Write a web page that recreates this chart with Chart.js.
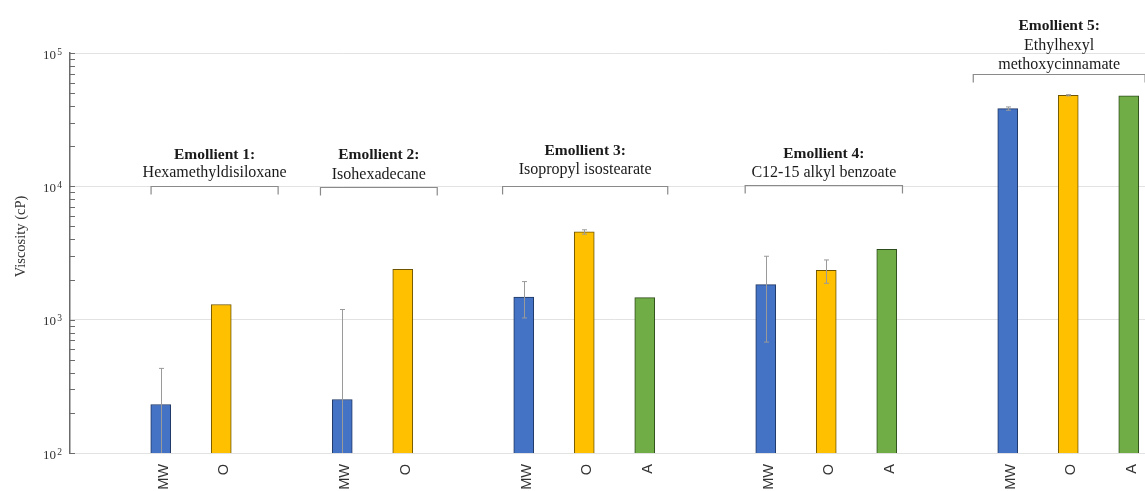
<!DOCTYPE html>
<html>
<head>
<meta charset="utf-8">
<script src="https://cdn.jsdelivr.net/npm/chart.js@4.4.1/dist/chart.umd.min.js"></script>
<style>
  html, body { margin: 0; padding: 0; background: #fff; overflow: hidden; width: 1145px; height: 491px; }
  canvas { display: block; }
</style>
</head>
<body>
<canvas id="chart" width="1160" height="491"></canvas>
<script>
// Preparation methods shown under each emollient
const methods = ['MW', 'O', 'A'];

// Emollient headings (bold line + substance name lines)
const emollientTitles = ['Emollient 1:', 'Emollient 2:', 'Emollient 3:', 'Emollient 4:', 'Emollient 5:'];
const emollientNames = [
  ['Hexamethyldisiloxane'],
  ['Isohexadecane'],
  ['Isopropyl isostearate'],
  ['C12-15 alkyl benzoate'],
  ['Ethylhexyl', 'methoxycinnamate']
];

// Viscosity (cP) per emollient, with standard deviations
const mwViscosity = [231, 252, 1480, 1834, 38300];
const mwError     = [200, 940, 450, 1155, 1100];
const oViscosity  = [1300, 2390, 4550, 2340, 48200];
const oError      = [null, null, 170, 465, 500];
const aViscosity  = [null, null, 1465, 3370, 47700];
const aError      = [null, null, null, null, null];

// Value-axis decades carrying a label (10^2 … 10^5)
const decadeExponents = [2, 3, 4, 5];

const series = [
  { values: mwViscosity, errors: mwError, fill: '#4472C4', edge: '#1F3763' },
  { values: oViscosity,  errors: oError,  fill: '#FFC000', edge: '#6E5400' },
  { values: aViscosity,  errors: aError,  fill: '#70AD47', edge: '#2E4D1C' }
];

// Build the category slots: a leading gap, each emollient's bars, a gap between emollients
const labels = [''];
const slotValues = series.map(() => [null]);
const slotErrors = series.map(() => [null]);
const groupStart = [];
emollientTitles.forEach((title, g) => {
  groupStart.push(labels.length);
  series.forEach((s, k) => {
    if (s.values[g] == null) return;
    labels.push(methods[k]);
    series.forEach((_, j) => {
      slotValues[j].push(j === k ? s.values[g] : null);
      slotErrors[j].push(j === k ? s.errors[g] : null);
    });
  });
  if (g < emollientTitles.length - 1) {
    labels.push('');
    slotValues.forEach(a => a.push(null));
    slotErrors.forEach(a => a.push(null));
  }
});

// Bracket layout, in category units relative to each emollient's first bar
const bracketSpan = [[-0.16, 1.94], [-0.36, 1.57], [-0.35, 2.38], [-0.34, 2.26], [-0.57, 2.27]];
const bracketY = [185.7, 186.5, 185.7, 185.2, 74];
const headingBaselines = [[159.3, 176.7], [159.3, 178.5], [155, 174.3], [157.7, 176.7], [30, 50, 69.3]];

const SERIF = "'Liberation Serif', 'DejaVu Serif', serif";
const isDecade = v => v > 0 && Math.abs(Math.log10(v) - Math.round(Math.log10(v))) < 1e-9;

const errorBars = {
  id: 'errorBars',
  afterDatasetsDraw(chart) {
    const { ctx, chartArea, scales: { y } } = chart;
    ctx.save();
    ctx.beginPath();
    ctx.rect(chartArea.left, chartArea.top, chartArea.right - chartArea.left, chartArea.bottom - chartArea.top);
    ctx.clip();
    ctx.strokeStyle = '#9a9a9a';
    ctx.lineWidth = 1;
    chart.data.datasets.forEach((ds, k) => {
      const meta = chart.getDatasetMeta(k);
      ds.data.forEach((v, i) => {
        const e = slotErrors[k][i];
        if (v == null || !e) return;
        const x = Math.round(meta.data[i].x) + 0.5;
        const top = y.getPixelForValue(v + e);
        const low = v - e > 0 ? y.getPixelForValue(v - e) : chartArea.bottom + 20;
        ctx.beginPath();
        ctx.moveTo(x, top); ctx.lineTo(x, low);
        ctx.moveTo(x - 2.5, top); ctx.lineTo(x + 2.5, top);
        ctx.moveTo(x - 2.5, low); ctx.lineTo(x + 2.5, low);
        ctx.stroke();
      });
    });
    ctx.restore();
  }
};

const decorations = {
  id: 'decorations',
  afterDraw(chart) {
    const { ctx, chartArea, scales: { x, y } } = chart;
    ctx.save();
    // minor and major tick marks on the inside of the value axis
    ctx.strokeStyle = '#6b6b6b';
    ctx.lineWidth = 1;
    ctx.beginPath();
    for (let dec = 100; dec < 100000; dec *= 10) {
      for (let m = 1; m <= 10; m++) {
        const py = Math.round(y.getPixelForValue(dec * m)) + 0.5;
        ctx.moveTo(chartArea.left, py);
        ctx.lineTo(chartArea.left + 5, py);
      }
    }
    ctx.stroke();

    // decade labels written as 10 with a raised exponent
    ctx.fillStyle = '#333';
    decadeExponents.forEach(p => {
      const py = y.getPixelForValue(Math.pow(10, p));
      ctx.font = `9.5px ${SERIF}`;
      ctx.textAlign = 'right';
      ctx.textBaseline = 'alphabetic';
      ctx.fillText(String(p), 62, py + 1.8);
      ctx.font = `13px ${SERIF}`;
      ctx.fillText('10', 56, py + 5.8);
    });

    // axis title
    ctx.fillStyle = '#333';
    ctx.font = `14.5px ${SERIF}`;
    ctx.textAlign = 'center';
    ctx.textBaseline = 'middle';
    ctx.translate(21, 236.5);
    ctx.rotate(-Math.PI / 2);
    ctx.fillText('Viscosity (cP)', 0, 0);
    ctx.setTransform(1, 0, 0, 1, 0, 0);

    // emollient brackets and headings
    const step = x.getPixelForValue(1) - x.getPixelForValue(0);
    emollientTitles.forEach((title, g) => {
      const base = x.getPixelForValue(groupStart[g]);
      const x0 = base + bracketSpan[g][0] * step;
      const x1 = base + bracketSpan[g][1] * step;
      const by = Math.round(bracketY[g]) + 0.5;
      ctx.strokeStyle = '#8a8a8a';
      ctx.lineWidth = 1.2;
      ctx.beginPath();
      ctx.moveTo(x0, by + 8); ctx.lineTo(x0, by); ctx.lineTo(x1, by); ctx.lineTo(x1, by + 8);
      ctx.stroke();

      const cx = (x0 + x1) / 2;
      const lines = headingBaselines[g];
      ctx.fillStyle = '#1a1a1a';
      ctx.textAlign = 'center';
      ctx.textBaseline = 'alphabetic';
      ctx.font = `bold 15.5px ${SERIF}`;
      ctx.fillText(title, cx, lines[0]);
      ctx.font = `16px ${SERIF}`;
      emollientNames[g].forEach((name, n) => ctx.fillText(name, cx, lines[n + 1]));
    });
    ctx.restore();
  }
};

new Chart(document.getElementById('chart'), {
  type: 'bar',
  data: {
    labels,
    datasets: series.map((s, k) => ({
      label: methods[k],
      data: slotValues[k],
      backgroundColor: s.fill,
      borderColor: s.edge,
      borderWidth: 1,
      barThickness: 20,
      skipNull: true
    }))
  },
  options: {
    responsive: false,
    animation: false,
    devicePixelRatio: 1,
    layout: { padding: { top: 53, right: 1, left: 0, bottom: 0 } },
    plugins: { legend: { display: false }, tooltip: { enabled: false } },
    scales: {
      x: {
        afterFit: s => { s.height = 38; },
        grid: { display: false },
        border: { display: true, color: '#e2e2e2' },
        ticks: {
          autoSkip: false, minRotation: 90, maxRotation: 90, padding: 3, labelOffset: 3,
          color: '#333', font: { family: "'Liberation Sans', Arial, sans-serif", size: 14.5 }
        }
      },
      y: {
        type: 'logarithmic',
        min: 100, max: 100000,
        afterFit: s => { s.width = 70; },
        border: { display: true, color: '#6b6b6b', width: 1.5 },
        grid: {
          drawTicks: false,
          color: ctx => (ctx.tick && isDecade(ctx.tick.value)) ? '#e2e2e2' : 'rgba(0,0,0,0)'
        },
        ticks: { autoSkip: false, callback: () => '' }
      }
    }
  },
  plugins: [errorBars, decorations]
});
</script>
</body>
</html>
